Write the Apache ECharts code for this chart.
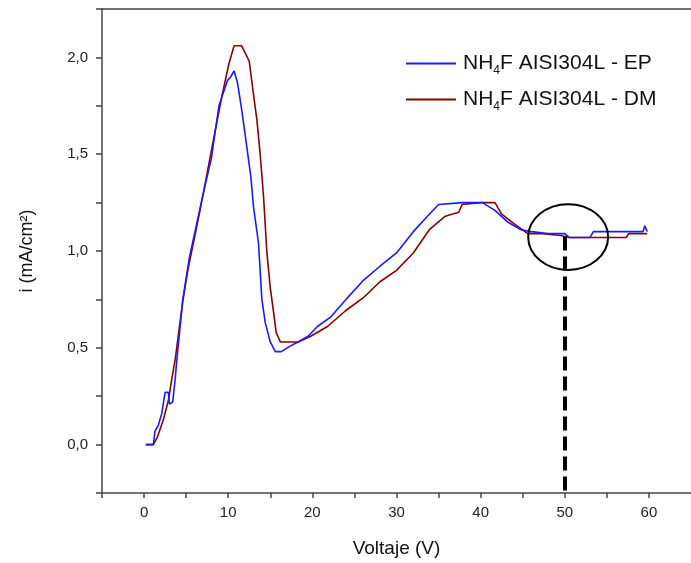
<!DOCTYPE html>
<html><head><meta charset="utf-8">
<script src="https://cdn.jsdelivr.net/npm/echarts@6/dist/echarts.min.js"></script>
<style>html,body{margin:0;padding:0;background:#fff}#c{width:691px;height:563px}</style>
</head><body><div id="c"></div>
<script>
// Data
const epV = [0.2,1.1,1.3,1.7,2.1,2.5,2.9,3.0,3.4,3.7,3.9,4.6,5.4,6.2,7.0,8.0,8.9,9.9,10.3,10.7,11.1,11.6,12.2,12.7,13.0,13.6,14.0,14.4,15.0,15.6,16.3,17.4,18.3,19.5,20.6,22.2,24.0,26.1,28.0,30.0,32.0,33.9,35.0,37.8,40.2,41.7,43.2,44.8,46.0,48.0,50.0,50.5,53.0,53.4,56.0,59.3,59.5,59.7,59.8];
const epI = [0,0,0.07,0.10,0.16,0.27,0.27,0.21,0.22,0.34,0.44,0.75,0.97,1.13,1.29,1.48,1.75,1.88,1.90,1.93,1.87,1.73,1.54,1.38,1.23,1.04,0.75,0.63,0.53,0.48,0.48,0.51,0.53,0.56,0.61,0.66,0.75,0.85,0.92,0.99,1.10,1.19,1.24,1.25,1.25,1.21,1.15,1.11,1.10,1.09,1.09,1.07,1.07,1.10,1.10,1.10,1.13,1.13,1.10];
const dmV = [0.2,1.1,1.6,2.3,2.9,3.3,3.7,4.6,5.2,5.9,6.6,7.4,8.4,9.3,10.1,10.7,11.6,12.5,13.0,13.4,13.8,14.2,14.6,15.0,15.4,15.7,16.2,18.3,19.8,21.8,23.9,26.1,28.0,30.0,32.0,33.9,35.8,37.4,37.8,40.0,41.7,42.5,44.0,45.6,47.0,49.5,50.5,54.0,57.3,57.6,59.8];
const dmI = [0,0,0.04,0.13,0.23,0.34,0.44,0.74,0.90,1.05,1.20,1.38,1.61,1.81,1.97,2.06,2.06,1.98,1.81,1.68,1.50,1.28,0.99,0.81,0.68,0.58,0.53,0.53,0.56,0.61,0.69,0.76,0.84,0.90,0.99,1.11,1.18,1.20,1.24,1.25,1.25,1.19,1.14,1.09,1.09,1.08,1.07,1.07,1.07,1.09,1.09];
const seriesNames = ['NH4F AISI304L - EP','NH4F AISI304L - DM'];
const xTicks = [0,10,20,30,40,50,60];
const markV = 50, markTop = 1.075;
const ellipseCenter = [50.4, 1.072], ellipseR = [4.75, 0.17];

const zip = (a,b) => a.map((v,i)=>[v,b[i]]);
const chart = echarts.init(document.getElementById('c'));
const tickFont = {fontFamily:'Liberation Sans Narrow, Liberation Sans, Arial', fontSize:15, color:'#222'};
const axisLine = {show:true, onZero:false, lineStyle:{color:'#444', width:1.5}};
chart.setOption({
  animation:false,
  grid:{left:102, top:9, right:-8, bottom:70},
  legend:{
    orient:'vertical', left:406, top:53, padding:0, itemWidth:50, itemHeight:2, itemGap:12, icon:'rect',
    data:seriesNames,
    formatter: n => '{a|NH}{s|4}{a|' + n.slice(3) + '}',
    textStyle:{fontFamily:'Liberation Sans, Arial', fontSize:21, color:'#111', padding:[0,0,0,2],
      rich:{a:{fontFamily:'Liberation Sans, Arial', fontSize:21, color:'#111'},
            s:{fontFamily:'Liberation Sans, Arial', fontSize:12, color:'#111', padding:[15,0,0,0]}}}
  },
  xAxis:[{
    type:'value', min:-5, max:65, interval:5,
    axisLine:axisLine, splitLine:{show:false},
    axisTick:{show:true, length:5, lineStyle:{color:'#444', width:1.5}},
    axisLabel:Object.assign({margin:12, formatter:v => xTicks.includes(v) ? String(v) : '', showMaxLabel:false}, tickFont),
    name:'Voltaje (V)', nameLocation:'middle', nameGap:46,
    nameTextStyle:{fontFamily:'Liberation Sans, Arial', fontSize:19, color:'#111'}
  },{
    type:'value', position:'top', min:-5, max:65, axisLine:axisLine, axisTick:{show:false}, axisLabel:{show:false}, splitLine:{show:false}
  }],
  yAxis:{
    type:'value', min:-0.25, max:2.25, interval:0.25,
    axisLine:axisLine, splitLine:{show:false},
    axisTick:{show:true, length:6, lineStyle:{color:'#444', width:1.5}},
    axisLabel:Object.assign({margin:14, formatter:v => {
      const d = v*2; return Math.abs(d-Math.round(d))<1e-6 && v>=0 && v<=2 ? v.toFixed(1).replace('.',',') : '';
    }}, tickFont),
    name:'i (mA/cm²)', nameLocation:'middle', nameGap:66, nameRotate:90,
    nameTextStyle:{fontFamily:'Liberation Sans, Arial', fontSize:18, color:'#111'}
  },
  series:[
    {name:seriesNames[0], type:'line', data:zip(epV,epI), symbol:'none', z:3,
     lineStyle:{color:'#1a1aff', width:1.6}, itemStyle:{color:'#1a1aff'},
     markLine:{silent:true, symbol:'none', label:{show:false},
       lineStyle:{color:'#000', width:4, type:[14,6]},
       data:[[{coord:[markV, markTop]},{coord:[markV, -0.25]}]]}},
    {name:seriesNames[1], type:'line', data:zip(dmV,dmI), symbol:'none', z:2,
     lineStyle:{color:'#8b0000', width:1.6}, itemStyle:{color:'#8b0000'}}
  ]
});
const c = chart.convertToPixel({gridIndex:0}, ellipseCenter);
const e = chart.convertToPixel({gridIndex:0}, [ellipseCenter[0]+ellipseR[0], ellipseCenter[1]+ellipseR[1]]);
chart.setOption({graphic:[{type:'ellipse', shape:{cx:c[0], cy:c[1], rx:e[0]-c[0], ry:c[1]-e[1]},
  style:{fill:null, stroke:'#000', lineWidth:2}, z:100}]});
</script></body></html>
